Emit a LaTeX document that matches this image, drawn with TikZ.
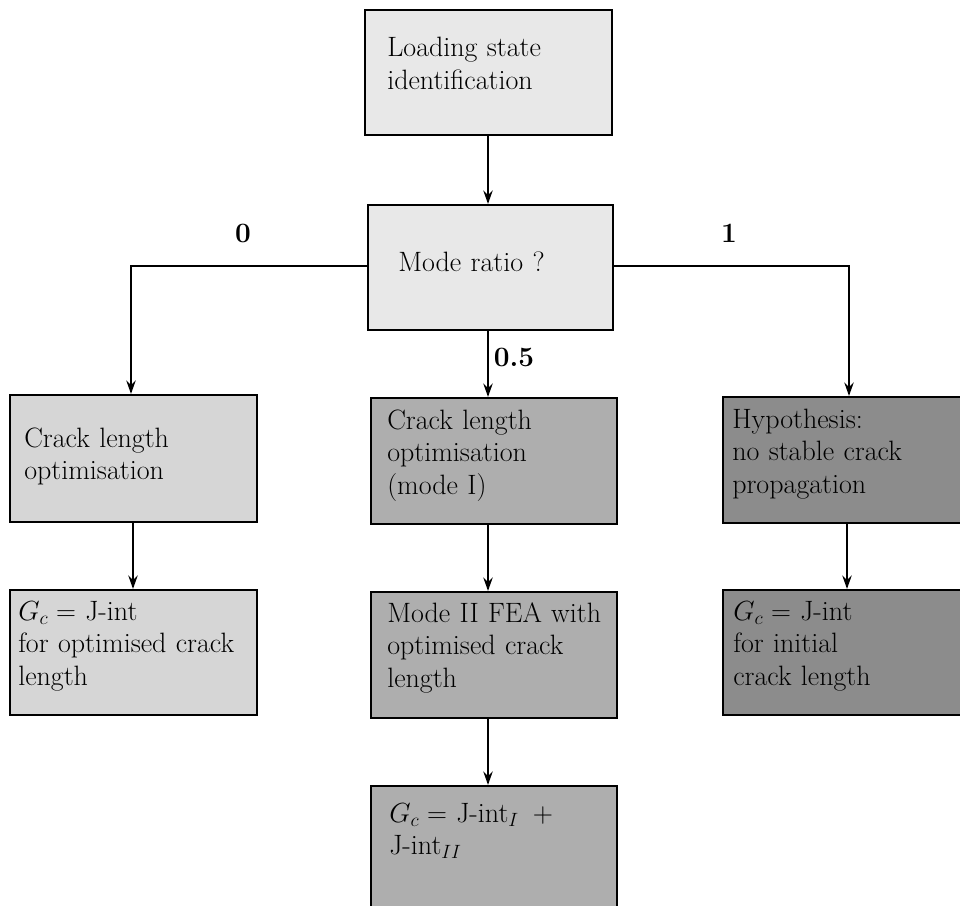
\documentclass[tikz,border=0pt]{standalone}
\usetikzlibrary{arrows.meta,calc}
\definecolor{cTop}{RGB}{232,232,232}
\definecolor{cLeft}{RGB}{214,214,214}
\definecolor{cMid}{RGB}{174,174,174}
\definecolor{cRight}{RGB}{140,140,140}
\begin{document}
\begin{tikzpicture}[x=0.75pt,y=-0.75pt,
  box/.style={draw=black,line width=1.6pt,rectangle,inner sep=0pt},
  txt/.style={anchor=base west,inner sep=0pt,text width=240*0.75pt,align=left,
    font=\fontsize{21}{24.4}\selectfont},
  lbl/.style={inner sep=0pt,font=\fontsize{21}{24.4}\selectfont\bfseries},
  arr/.style={line width=1.6pt,-{Stealth[length=10pt,width=7pt,inset=3.5pt]}}]
\clip (0,0) rectangle (960,906);
\fill[white] (0,0) rectangle (960,906);
% boxes
\node[box,fill=cTop,minimum width=247*0.75pt,minimum height=125*0.75pt] (A) at (488.5,72.5) {};
\node[box,fill=cTop,minimum width=245*0.75pt,minimum height=125*0.75pt] (B) at (490.5,267.5) {};
\node[box,fill=cLeft,minimum width=247*0.75pt,minimum height=127*0.75pt] (C) at (133.5,458.5) {};
\node[box,fill=cMid,minimum width=246*0.75pt,minimum height=126*0.75pt] (D) at (494,461) {};
\node[box,fill=cRight,minimum width=247*0.75pt,minimum height=126*0.75pt] (E) at (846.5,460) {};
\node[box,fill=cLeft,minimum width=247*0.75pt,minimum height=125*0.75pt] (F) at (133.5,652.5) {};
\node[box,fill=cMid,minimum width=246*0.75pt,minimum height=126*0.75pt] (G) at (494,655) {};
\node[box,fill=cRight,minimum width=247*0.75pt,minimum height=125*0.75pt] (H) at (846.5,652.5) {};
\node[box,fill=cMid,minimum width=246*0.75pt,minimum height=126*0.75pt] (I) at (494,849) {};
% texts
\node[txt] (tA) at (387,57) {Loading state\\identification};
\node[txt] (tB) at (398,271) {Mode ratio ?};
\node[txt] (tC) at (24,447) {Crack length\\optimisation};
\node[txt] (tD) at (387,429) {Crack length\\optimisation\\(mode I)};
\node[txt] (tE) at (732,428) {Hypothesis:\\no stable crack\\propagation};
\node[txt] (tF) at (18,620) {$G_c =$ J-int\\for optimised crack\\length};
\node[txt] (tG) at (387,622) {Mode II FEA with\\optimised crack\\length};
\node[txt] (tH) at (733,620) {$G_c =$ J-int\\for initial\\crack length};
\node[txt] (tI) at (389,822) {$G_c =$ J-int$_I$\hspace{0.5em}+\\J-int$_{II}$};
% connector x positions
\coordinate (xA) at (488,0);
\coordinate (xL) at (131,0);
\coordinate (xR) at (849,0);
\coordinate (xLc) at (133,0);
\coordinate (xRc) at (847,0);
\coordinate (yB) at (0,266);
% connectors
\draw[arr] (A.south -| xA) -- (B.north -| xA);
\draw[arr] (B.west |- yB) -| (C.north -| xL);
\draw[arr] (B.east |- yB) -| (E.north -| xR);
\draw[arr] (B.south -| xA) -- (D.north -| xA);
\draw[arr] (C.south -| xLc) -- (F.north -| xLc);
\draw[arr] (D.south -| xA) -- (G.north -| xA);
\draw[arr] (E.south -| xRc) -- (H.north -| xRc);
\draw[arr] (G.south -| xA) -- (I.north -| xA);
% labels
\node[lbl] (l0) at (243,233) {0};
\node[lbl] (l1) at (729,233) {1};
\node[lbl] (l05) at (514,357) {0.5};
\end{tikzpicture}
\end{document}
